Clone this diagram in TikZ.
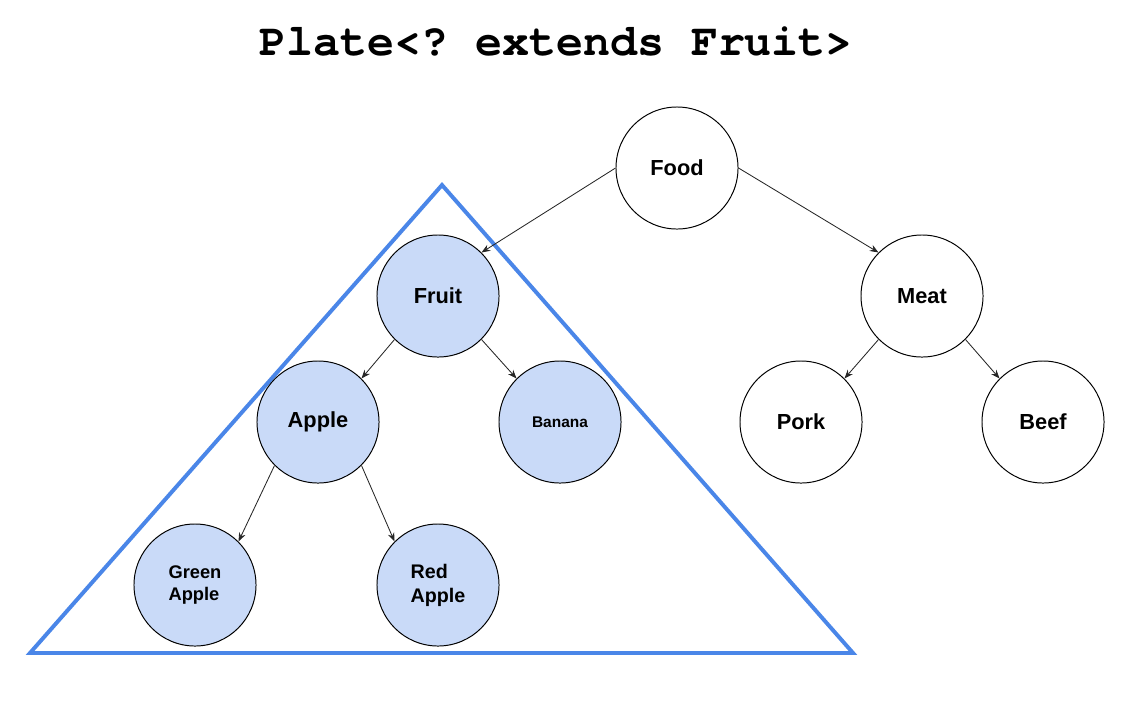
\documentclass[tikz,border=0pt]{standalone}
\usepackage{fontspec}
\setmainfont{Liberation Sans}
\setmonofont{TeX Gyre Cursor}
\usepackage{tikz}
\usetikzlibrary{arrows.meta}
\definecolor{setfill}{HTML}{C9DAF8}
\definecolor{setline}{HTML}{4A86E8}
\tikzset{
  cls/.style    = {circle, draw=black, fill=white, line width=0.7pt,
                   minimum size=30.5mm, inner sep=0pt, align=left,
                   font=\fontsize{15.5}{18}\selectfont\bfseries},
  subcls/.style = {cls, fill=setfill},
  bound/.style  = {draw=setline, line width=2.8pt, line join=miter},
  edge/.style   = {-{Stealth[length=2.2mm, width=1.7mm]}, line width=0.6pt, draw=black!85},
  ttl/.style    = {font=\fontsize{32}{36}\selectfont\ttfamily\bfseries},
}
\begin{document}
\begin{tikzpicture}[x=0.025cm, y=-0.025cm]
        \useasboundingbox (0,0) rectangle (1142,706);
        \node[ttl] (title) at (556,41) {Plate<? extends Fruit>};
        % upper bound of the wildcard
        \coordinate (top) at (442,185);
        \coordinate (bl)  at (30,653);
        \coordinate (br)  at (853,653);
        \draw[bound] (top) -- (br) -- (bl) -- cycle;
        \node[cls]    (food)  at (677,168) {Food};
        \node[subcls] (fruit) at (438,296) {Fruit};
        \node[cls]    (meat)  at (922,296) {Meat};
        \node[subcls] (apple) at (318,422) {Apple};
        \node[subcls, font=\fontsize{11}{13}\selectfont\bfseries] (banana) at (560,422) {Banana};
        \node[cls]    (pork)  at (801,422) {Pork};
        \node[cls]    (beef)  at (1043,422) {Beef};
        \node[subcls, font=\fontsize{13}{16}\selectfont\bfseries] (green) at (195,585) {Green\\Apple};
        \node[subcls, font=\fontsize{14}{17}\selectfont\bfseries] (red) at (438,585) {Red\\Apple};
        \draw[edge] (food.west) -- (fruit.north east);
        \draw[edge] (food.east) -- (meat.north west);
        \foreach \x/\y in {fruit/apple, apple/green, meat/pork}{\draw[edge] (\x.south west) -- (\y.north east);}
        \foreach \x/\y in {fruit/banana, apple/red, meat/beef}{\draw[edge] (\x.south east) -- (\y.north west);}
    \end{tikzpicture}
\end{document}
